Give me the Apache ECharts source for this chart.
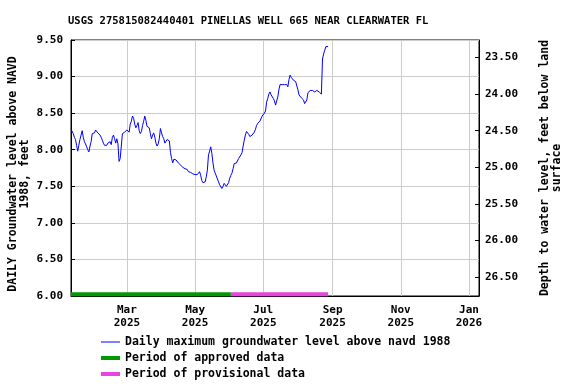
<!DOCTYPE html>
<html>
<head>
<meta charset="utf-8">
<script src="https://cdn.jsdelivr.net/npm/echarts@6/dist/echarts.min.js"></script>
<style>
html,body{margin:0;padding:0;background:#fff;}
#chart{width:576px;height:384px;}
</style>
</head>
<body>
<div id="chart"></div>
<script>
// ---- data ----
const titleText = 'USGS 275815082440401 PINELLAS WELL 665 NEAR CLEARWATER FL';
const seriesStart = '2025-01-10';           // date of first daily value
const axisStart = '2025-01-10';
const axisEnd = '2026-01-10';
// daily maximum groundwater level above NAVD 1988, feet (one value per day)
const levels = [
  8.28, 8.29, 8.22, 8.17, 8.14, 8.06, 7.98, 8.06, 8.14, 8.20,
  8.26, 8.17, 8.11, 8.08, 8.04, 8.00, 7.97, 8.05, 8.11, 8.22,
  8.20, 8.23, 8.27, 8.25, 8.23, 8.22, 8.20, 8.17, 8.13, 8.09,
  8.06, 8.04, 8.06, 8.09, 8.11, 8.11, 8.07, 8.17, 8.20, 8.15,
  8.09, 8.15, 8.08, 7.84, 7.88, 8.05, 8.22, 8.23, 8.24, 8.25,
  8.27, 8.29, 8.24, 8.35, 8.39, 8.46, 8.43, 8.35, 8.30, 8.33,
  8.37, 8.26, 8.22, 8.25, 8.33, 8.39, 8.46, 8.40, 8.32, 8.30,
  8.30, 8.22, 8.15, 8.20, 8.23, 8.17, 8.09, 8.05, 8.08, 8.15,
  8.29, 8.23, 8.18, 8.15, 8.09, 8.09, 8.14, 8.15, 8.12, 7.96,
  7.88, 7.82, 7.87, 7.85, 7.86, 7.86, 7.82, 7.81, 7.79, 7.78,
  7.76, 7.77, 7.74, 7.73, 7.73, 7.70, 7.70, 7.69, 7.68, 7.67,
  7.65, 7.66, 7.65, 7.66, 7.66, 7.70, 7.65, 7.58, 7.55, 7.56,
  7.56, 7.63, 7.72, 7.93, 7.98, 8.04, 7.95, 7.82, 7.72, 7.68,
  7.64, 7.62, 7.56, 7.52, 7.51, 7.47, 7.50, 7.54, 7.53, 7.50,
  7.51, 7.55, 7.61, 7.65, 7.68, 7.74, 7.81, 7.82, 7.82, 7.84,
  7.88, 7.89, 7.93, 7.96, 8.05, 8.13, 8.20, 8.25, 8.24, 8.21,
  8.18, 8.19, 8.20, 8.22, 8.24, 8.28, 8.33, 8.36, 8.38, 8.39,
  8.40, 8.46, 8.47, 8.50, 8.53, 8.65, 8.70, 8.76, 8.79, 8.75,
  8.73, 8.70, 8.67, 8.61, 8.63, 8.72, 8.82, 8.89, 8.89, 8.89,
  8.89, 8.89, 8.89, 8.89, 8.86, 8.96, 9.02, 8.99, 8.97, 8.95,
  8.94, 8.93, 8.91, 8.82, 8.75, 8.74, 8.71, 8.69, 8.68, 8.63,
  8.65, 8.68, 8.78, 8.79, 8.81, 8.82, 8.81, 8.80, 8.79, 8.80,
  8.81, 8.81, 8.79, 8.78, 8.76, 9.24, 9.31, 9.36, 9.41, 9.43,
  9.41
];
const approvedPeriod = ['2025-01-10', '2025-06-02'];
const provisionalPeriod = ['2025-06-02', '2025-08-28'];
const xTickDates = ['2025-03-01', '2025-05-01', '2025-07-01', '2025-09-01', '2025-11-01', '2026-01-01'];
const monthNames = ['Jan','Feb','Mar','Apr','May','Jun','Jul','Aug','Sep','Oct','Nov','Dec'];
const levelMin = 6.0, levelMax = 9.5, levelStep = 0.5;
const landSurface = 32.76;   // depth below land = landSurface - level
const names = {
  line: 'Daily maximum groundwater level above navd 1988',
  approved: 'Period of approved data',
  provisional: 'Period of provisional data'
};
const leftAxisName = 'DAILY Groundwater level above NAVD\n1988, feet';
const rightAxisName = 'Depth to water level, feet below land\nsurface';

// ---- build ----
function ts(s) { const p = s.split('-').map(Number); return new Date(p[0], p[1] - 1, p[2]).getTime(); }
const s0 = seriesStart.split('-').map(Number);
const lineData = levels.map((v, i) => [new Date(s0[0], s0[1] - 1, s0[2] + i).getTime(), v]);
const barLevel = levelMin + 0.025; // sits just on the bottom axis
const approvedData = approvedPeriod.map(d => [ts(d), barLevel]);
const provisionalData = provisionalPeriod.map(d => [ts(d), barLevel]);
const xTicks = xTickDates.map(ts);

const FONT = '"DejaVu Sans Mono", monospace';
const txt = { fontFamily: FONT, fontWeight: 'bold', color: '#000' };
const legendText = Object.assign({ fontSize: 11.5 }, txt);

const chart = echarts.init(document.getElementById('chart'), null, { renderer: 'canvas' });
chart.setOption({
  animation: false,
  backgroundColor: '#fff',
  title: {
    text: titleText, left: 63, top: 11,
    textStyle: Object.assign({ fontSize: 10.5 }, txt)
  },
  grid: { left: 71, top: 40, width: 408, height: 256, show: true, borderColor: '#000', borderWidth: 1, containLabel: false, outerBoundsMode: 'none' },
  legend: [
    { data: [{ name: names.line, icon: 'rect' }], left: 96, top: 331, itemWidth: 19, itemHeight: 1, textStyle: legendText, selectedMode: false },
    { data: [{ name: names.approved, icon: 'rect' }], left: 96, top: 347, itemWidth: 19, itemHeight: 4, textStyle: legendText, selectedMode: false },
    { data: [{ name: names.provisional, icon: 'rect' }], left: 96, top: 363, itemWidth: 19, itemHeight: 4, textStyle: legendText, selectedMode: false }
  ],
  xAxis: {
    type: 'value', min: ts(axisStart), max: ts(axisEnd),
    axisLine: { show: true, lineStyle: { color: '#000' } },
    axisTick: { show: false, customValues: xTicks },
    axisLabel: {
      customValues: xTicks, margin: 8, lineHeight: 13,
      fontSize: 11, fontFamily: FONT, fontWeight: 'bold', color: '#000',
      formatter: v => { const d = new Date(v); return monthNames[d.getMonth()] + '\n' + d.getFullYear(); }
    },
    splitLine: { show: true, lineStyle: { color: '#cccccc', width: 1 } }
  },
  yAxis: [
    {
      type: 'value', min: levelMin, max: levelMax, interval: levelStep, position: 'left',
      name: leftAxisName, nameLocation: 'middle', nameGap: 40, nameRotate: 90, nameMoveOverlap: false,
      nameTextStyle: Object.assign({ fontSize: 11.5, lineHeight: 12, padding: [0, 12, 0, 0] }, txt),
      axisLine: { show: true, lineStyle: { color: '#000' } },
      axisTick: { show: true, inside: true, length: 4, lineStyle: { color: '#000' } },
      axisLabel: { margin: 8, fontSize: 11, fontFamily: FONT, fontWeight: 'bold', color: '#000', formatter: v => v.toFixed(2) },
      splitLine: { show: true, lineStyle: { color: '#cccccc', width: 1 } }
    },
    {
      type: 'value', min: landSurface - levelMax, max: landSurface - levelMin, inverse: true,
      splitNumber: 7, position: 'right',
      name: rightAxisName, nameLocation: 'middle', nameGap: 60, nameRotate: 90, nameMoveOverlap: false,
      nameTextStyle: Object.assign({ fontSize: 11.5, lineHeight: 12 }, txt),
      axisLine: { show: true, lineStyle: { color: '#000' } },
      axisTick: { show: true, inside: true, length: 4, lineStyle: { color: '#000' } },
      axisLabel: { margin: 6, showMinLabel: false, showMaxLabel: false, fontSize: 11, fontFamily: FONT, fontWeight: 'bold', color: '#000', formatter: v => v.toFixed(2) },
      splitLine: { show: false }
    }
  ],
  series: [
    {
      name: names.line, type: 'line', yAxisIndex: 0, data: lineData,
      showSymbol: false, symbol: 'none', color: '#0000ff',
      lineStyle: { color: '#0000ff', width: 1 }, z: 3
    },
    {
      name: names.approved, type: 'line', yAxisIndex: 0, data: approvedData,
      showSymbol: false, symbol: 'none', color: '#009900', clip: false,
      lineStyle: { color: '#009900', width: 4, cap: 'butt' }, z: 4
    },
    {
      name: names.provisional, type: 'line', yAxisIndex: 0, data: provisionalData,
      showSymbol: false, symbol: 'none', color: '#ea44e0', clip: false,
      lineStyle: { color: '#ea44e0', width: 4, cap: 'butt' }, z: 4
    }
  ]
});
</script>
</body>
</html>
